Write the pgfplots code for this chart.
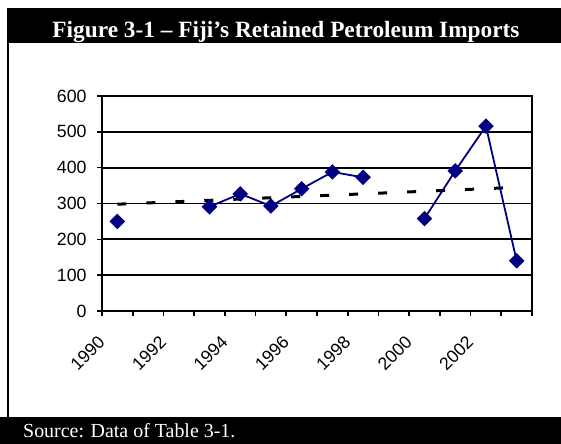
\documentclass[border=0pt]{standalone}
\usepackage{fontspec}
\setmainfont{Liberation Serif}
\newfontfamily\arial{Liberation Sans}
\usepackage{pgfplots}
\pgfplotsset{compat=1.18}
\usepackage{pgfplotstable}
\definecolor{navy}{RGB}{0,0,128}

% retained petroleum imports (gaps = no data)
\pgfplotstableread{
year value
1990 250
1991 nan
1992 nan
1993 291
1994 327
1995 293
1996 341
1997 388
1998 373
1999 nan
2000 258
2001 391
2002 516
2003 140
}\imports

% linear trend
\pgfplotstableread{
year trend
1990 298
2003 345
}\trend

\begin{document}
\begin{tikzpicture}
\path[use as bounding box] (0bp,0bp) rectangle (561bp,444bp);
% header and footer bands
\fill[black] (7bp,436bp) rectangle (561bp,400.5bp);
\node[text=white,anchor=base,inner sep=0pt,font=\fontsize{23.4}{26}\selectfont\bfseries] at (286bp,406.5bp)
  {Figure 3-1 – Fiji’s Retained Petroleum Imports};
\fill[black] (0bp,0bp) rectangle (561bp,27bp);
\node[text=white,anchor=base west,inner sep=0pt,font=\fontsize{20}{22}\selectfont] at (23bp,7bp)
  {Source: Data of Table 3-1.};
\draw[line width=2bp] (7.5bp,27bp) -- (7.5bp,401bp);
\begin{axis}[
    at={(102bp,133bp)}, anchor=south west,
    scale only axis, width=430bp, height=215bp,
    xmin=1989.5, xmax=2003.5, ymin=0, ymax=600,
    ytick={0,100,...,600},
    xtick={1989.5,1990.5,1991.5,1992.5,1993.5,1994.5,1995.5,1996.5,1997.5,1998.5,1999.5,2000.5,2001.5,2002.5,2003.5},
    xticklabels={1990,,1992,,1994,,1996,,1998,,2000,,2002,,},
    /pgf/number format/assume math mode=true,
    ticklabel style={font=\arial\fontsize{17.8}{20}\selectfont},
    xticklabel style={rotate=45, anchor=east, xshift=-13.4bp, yshift=-16.3bp},
    yticklabel style={anchor=east, xshift=-7bp},
    tick align=outside, xtick pos=bottom, ytick pos=left,
    major tick length=5bp,
    tick style={line width=1.6bp, black},
    axis line style={line width=2bp},
    ymajorgrids, grid style={line width=1.8bp, black},
]
\addplot[black, line width=3bp, dash pattern=on 9bp off 20bp] table[x=year,y=trend]{\trend};
\addplot[navy, line width=1.8bp, mark=square*, mark size=4.6bp,
  mark options={rotate=45, solid}, unbounded coords=jump] table[x=year,y=value]{\imports};
\end{axis}
\end{tikzpicture}
\end{document}
